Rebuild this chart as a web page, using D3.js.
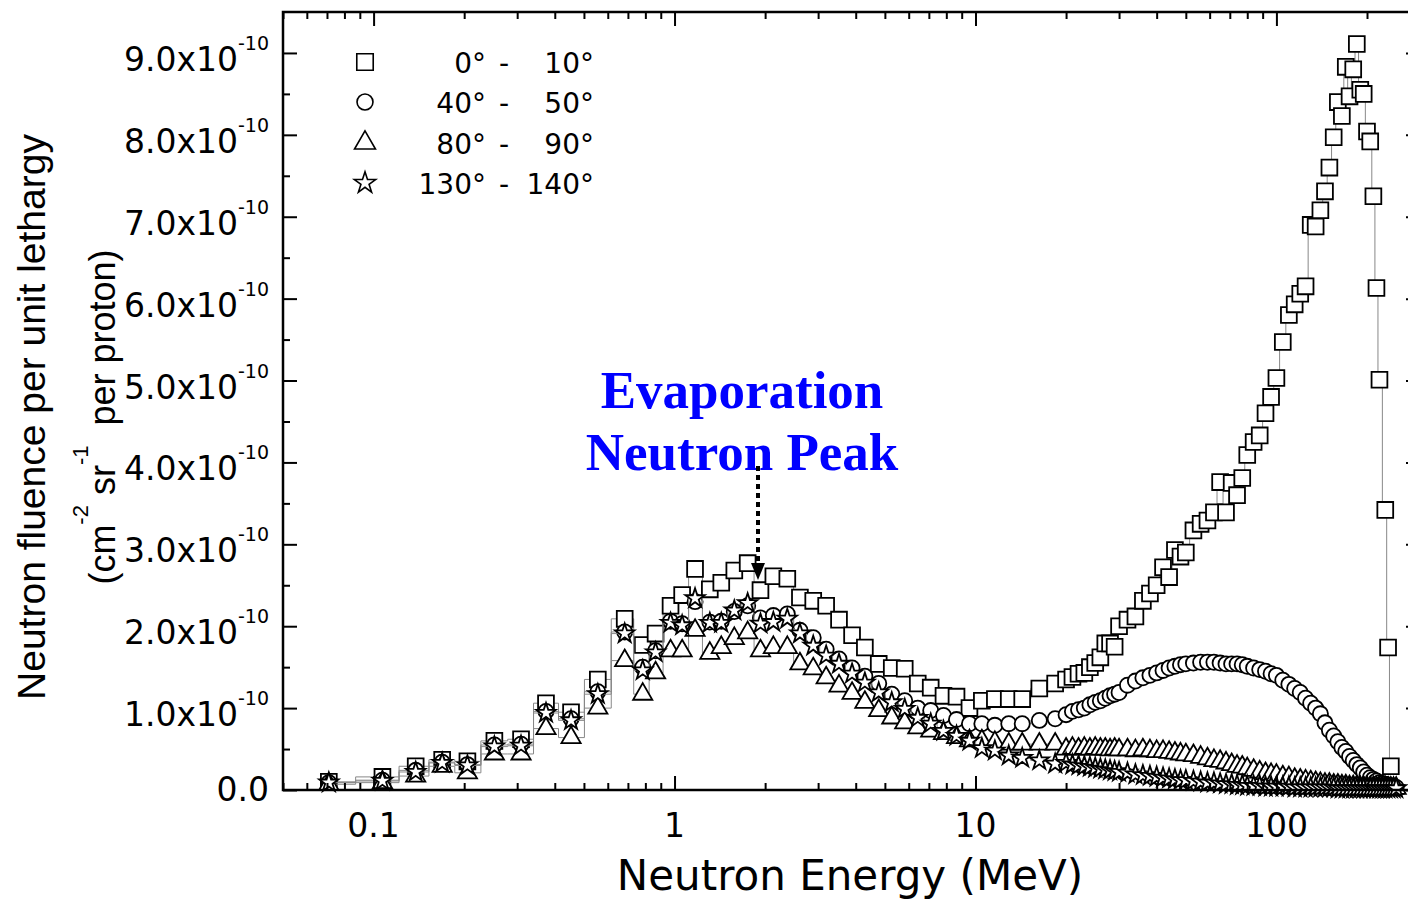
<!DOCTYPE html>
<html>
<head>
<meta charset="utf-8">
<script src="https://cdn.jsdelivr.net/npm/d3@7"></script>
<style>
  body { margin: 0; background: #fff; }
  text { white-space: pre; }
</style>
</head>
<body>
<div id="chart"></div>
<script>
// neutron energy bin centres (MeV)
var energyLow = [0.071, 0.107, 0.138, 0.169, 0.205, 0.252, 0.309, 0.374, 0.453, 0.556, 0.683, 0.784, 0.865, 0.970,
  1.06, 1.17, 1.31, 1.43, 1.58, 1.75, 1.93, 2.13, 2.37, 2.61, 2.89, 3.19, 3.52, 3.89, 4.29, 4.77, 5.27, 5.82,
  6.43, 7.10, 7.83, 8.65, 9.55, 10.5, 11.6, 12.9, 14.3, 16.3, 18.4];
var energyHigh = [20, 21, 22, 23, 24, 25, 26, 27, 28, 29, 30, 32, 34, 36, 38, 40, 42, 44, 46, 48, 50,
  53, 56, 59, 62, 65, 68, 71, 74, 77, 80, 84, 88, 92, 96, 100,
  105, 110, 115, 120, 125, 130, 135, 140, 145, 150, 155, 160, 165, 170, 175, 180, 185, 190, 195, 200,
  205, 210, 215, 220, 225, 230, 235, 240, 245, 250];

// fluence per unit lethargy, units of 1e-10 cm^-2 sr^-1 per proton
var deg0Low = [0.10, 0.16, 0.29, 0.37, 0.35, 0.60, 0.62, 1.06, 0.95, 1.35, 2.09, 1.77, 1.91, 2.25,
  2.38, 2.70, 2.45, 2.53, 2.68, 2.77, 2.44, 2.61, 2.58, 2.35, 2.31, 2.25, 2.08, 1.89, 1.74, 1.54, 1.49, 1.48,
  1.30, 1.25, 1.15, 1.14, 1.00, 1.09, 1.11, 1.11, 1.11, 1.24, 1.30];
var deg0High = [1.35, 1.38, 1.42, 1.43, 1.50, 1.55, 1.62, 1.79, 1.79, 1.75, 2.00, 2.08, 2.12, 2.31, 2.40, 2.50, 2.72, 2.60, 2.93, 2.85, 2.90,
  3.17, 3.25, 3.29, 3.39, 3.76, 3.39, 3.75, 3.60, 3.81, 4.09, 4.25, 4.33, 4.60, 4.80, 5.03,
  5.47, 5.80, 5.93, 6.06, 6.15, 6.90, 6.88, 7.08, 7.31, 7.60, 7.97, 8.40, 8.23, 8.83, 8.47, 8.80, 9.11, 8.55, 8.50, 8.04,
  7.92, 7.25, 6.13, 5.01, null, 3.42, 1.74, 0.29, null, null];

var deg40Low = [0.09, 0.12, 0.24, 0.34, 0.31, 0.55, 0.56, 0.96, 0.87, 1.20, 1.93, 1.50, 1.70, 2.06,
  2.03, 2.30, 2.05, 2.06, 2.18, 2.25, 2.10, 2.13, 2.15, 1.95, 1.86, 1.72, 1.60, 1.49, 1.39, 1.30, 1.17, 1.09,
  1.00, 0.97, 0.91, 0.86, 0.81, 0.81, 0.79, 0.81, 0.81, 0.85, 0.87];
var deg40High = [0.92, 0.96, 0.98, 1.00, 1.04, 1.07, 1.09, 1.12, 1.15, 1.17, 1.19, 1.28, 1.33, 1.37, 1.40, 1.43, 1.46, 1.49, 1.51, 1.53, 1.54,
  1.55, 1.56, 1.56, 1.56, 1.55, 1.54, 1.54, 1.54, 1.53, 1.51, 1.49, 1.47, 1.45, 1.42, 1.40,
  1.34, 1.29, 1.24, 1.19, 1.12, 1.06, 1.00, 0.93, 0.82, 0.73, 0.66, 0.59, 0.52, 0.47, 0.41, 0.36, 0.31, 0.27, 0.22, 0.18,
  0.15, 0.13, 0.11, 0.09, 0.08, 0.07, 0.06, 0.05, 0.04, 0.03];

var deg80Low = [0.07, 0.09, 0.17, 0.29, 0.21, 0.44, 0.44, 0.75, 0.64, 1.00, 1.58, 1.17, 1.43, 1.70,
  1.70, 1.95, 1.67, 1.74, 1.85, 1.92, 1.70, 1.74, 1.74, 1.54, 1.48, 1.37, 1.27, 1.18, 1.07, 0.97, 0.88, 0.82,
  0.76, 0.72, 0.69, 0.64, 0.60, 0.60, 0.58, 0.56, 0.56, 0.56, 0.56];
var deg80High = [0.50, 0.51, 0.50, 0.51, 0.50, 0.51, 0.50, 0.50, 0.49, 0.50, 0.49, 0.49, 0.48, 0.49, 0.48, 0.47, 0.47, 0.46, 0.45, 0.44, 0.43,
  0.42, 0.40, 0.38, 0.36, 0.35, 0.33, 0.31, 0.29, 0.28, 0.26, 0.24, 0.22, 0.20, 0.19, 0.18,
  0.16, 0.15, 0.13, 0.12, 0.11, 0.10, 0.09, 0.08, 0.07, 0.07, 0.06, 0.06, 0.05, 0.05, 0.04, 0.04, 0.04, 0.03, 0.03, 0.03,
  0.03, 0.03, 0.02, 0.02, 0.02, 0.02, 0.02, 0.02, 0.02, 0.02];

var deg130Low = [0.09, 0.11, 0.22, 0.33, 0.30, 0.53, 0.54, 0.94, 0.85, 1.17, 1.91, 1.46, 1.68, 2.04,
  2.01, 2.34, 2.04, 2.04, 2.19, 2.28, 2.03, 2.05, 2.09, 1.91, 1.76, 1.64, 1.54, 1.42, 1.31, 1.19, 1.07, 0.99,
  0.88, 0.81, 0.72, 0.66, 0.60, 0.51, 0.48, 0.42, 0.39, 0.36, 0.32];
var deg130High = [0.33, 0.31, 0.30, 0.29, 0.28, 0.27, 0.26, 0.25, 0.24, 0.23, 0.22, 0.21, 0.19, 0.18, 0.17, 0.16, 0.15, 0.14, 0.13, 0.12, 0.12,
  0.11, 0.10, 0.09, 0.09, 0.08, 0.07, 0.07, 0.06, 0.06, 0.05, 0.05, 0.05, 0.04, 0.04, 0.04,
  0.04, 0.04, 0.03, 0.03, 0.03, 0.03, 0.03, 0.03, 0.03, 0.03, 0.03, 0.02, 0.02, 0.02, 0.02, 0.02, 0.02, 0.02, 0.02, 0.02,
  0.02, 0.02, 0.02, 0.02, 0.02, 0.02, 0.02, 0.02, 0.02, 0.02];

var yTicks = [0, 1, 2, 3, 4, 5, 6, 7, 8, 9];
var yMinor = [0.5, 1.5, 2.5, 3.5, 4.5, 5.5, 6.5, 7.5, 8.5];
var xTicks = [0.1, 1, 10, 100];
var xMinor = [0.05, 0.06, 0.07, 0.08, 0.09, 0.2, 0.3, 0.4, 0.5, 0.6, 0.7, 0.8, 0.9,
  2, 3, 4, 5, 6, 7, 8, 9, 20, 30, 40, 50, 60, 70, 80, 90, 200, 300];
var legendFrom = ["0°", "40°", "80°", "130°"];
var legendTo = ["10°", "50°", "90°", "140°"];

var w = 1408, h = 902;
var plotL = 283, plotR = 1420, plotT = 12, plotB = 790;

var svg = d3.select('#chart').append('svg')
  .attr('width', w)
  .attr('height', h);

var x = d3.scaleLog().domain([0.05, 300]).range([plotL, plotR]);
var y = d3.scaleLinear().domain([0, 9.5]).range([plotB, plotT]);

function pairs(es, vs) {
  return es.map(function(e, i) { return {e: e, v: vs[i]}; })
    .filter(function(d) { return d.v != null; });
}

var series = [
  {data: pairs(energyLow, deg0Low).concat(pairs(energyHigh, deg0High)), sym: d3.symbolSquare, size: 250},
  {data: pairs(energyLow, deg40Low).concat(pairs(energyHigh, deg40High)), sym: d3.symbolCircle, size: 180},
  {data: pairs(energyLow, deg80Low).concat(pairs(energyHigh, deg80High)), sym: d3.symbolTriangle, size: 160},
  {data: pairs(energyLow, deg130Low).concat(pairs(energyHigh, deg130High)), sym: d3.symbolStar, size: 115}
];

var plot = svg.append('g');

var line = d3.line()
  .x(function(d) { return x(d.e); })
  .y(function(d) { return y(d.v); })
  .curve(d3.curveStep);

series.forEach(function(s) {
  plot.append('path')
    .datum(s.data)
    .attr('d', line)
    .attr('fill', 'none')
    .attr('stroke', '#888')
    .attr('stroke-width', 1);
  plot.selectAll(null)
    .data(s.data)
    .enter().append('path')
    .attr('transform', function(d) { return 'translate(' + x(d.e) + ',' + y(d.v) + ')'; })
    .attr('d', d3.symbol().type(s.sym).size(s.size))
    .attr('fill', 'white')
    .attr('stroke', 'black')
    .attr('stroke-width', 1.8);
});

// axes: ticks point inward on all four sides
function styleAxis(g) {
  g.select('.domain').remove();
  g.selectAll('.tick line').attr('stroke', 'black').attr('stroke-width', 2);
  g.selectAll('.tick text').remove();
}
svg.append('g').attr('transform', 'translate(0,' + plotB + ')')
  .call(d3.axisBottom(x).tickValues(xTicks).tickSize(-14).tickSizeOuter(0)).call(styleAxis);
svg.append('g').attr('transform', 'translate(0,' + plotB + ')')
  .call(d3.axisBottom(x).tickValues(xMinor).tickSize(-7).tickSizeOuter(0)).call(styleAxis);
svg.append('g').attr('transform', 'translate(0,' + plotT + ')')
  .call(d3.axisTop(x).tickValues(xTicks).tickSize(-14).tickSizeOuter(0)).call(styleAxis);
svg.append('g').attr('transform', 'translate(0,' + plotT + ')')
  .call(d3.axisTop(x).tickValues(xMinor).tickSize(-7).tickSizeOuter(0)).call(styleAxis);
svg.append('g').attr('transform', 'translate(' + plotL + ',0)')
  .call(d3.axisLeft(y).tickValues(yTicks).tickSize(-14).tickSizeOuter(0)).call(styleAxis);
svg.append('g').attr('transform', 'translate(' + plotL + ',0)')
  .call(d3.axisLeft(y).tickValues(yMinor).tickSize(-7).tickSizeOuter(0)).call(styleAxis);
svg.append('g').attr('transform', 'translate(' + plotR + ',0)')
  .call(d3.axisRight(y).tickValues(yTicks).tickSize(-14).tickSizeOuter(0)).call(styleAxis);
svg.append('g').attr('transform', 'translate(' + plotR + ',0)')
  .call(d3.axisRight(y).tickValues(yMinor).tickSize(-7).tickSizeOuter(0)).call(styleAxis);

svg.append('rect')
  .attr('x', plotL).attr('y', plotT)
  .attr('width', plotR - plotL).attr('height', plotB - plotT)
  .attr('fill', 'none').attr('stroke', 'black').attr('stroke-width', 2.5);

// tick labels
var labelFont = '"DejaVu Sans", sans-serif';
svg.selectAll('.xlab')
  .data(xTicks)
  .enter().append('text')
  .attr('x', function(d) { return x(d); })
  .attr('y', 837)
  .attr('text-anchor', 'middle')
  .style('font-family', labelFont)
  .style('font-size', '33px')
  .text(function(d) { return String(d); });

var ylab = svg.selectAll('.ylab')
  .data(yTicks)
  .enter().append('text')
  .attr('x', 269)
  .attr('y', function(d) { return d === 0 ? y(d) + 11 : y(d) + 18; })
  .attr('text-anchor', 'end')
  .style('font-family', labelFont)
  .style('font-size', '33px');
ylab.append('tspan').text(function(d) { return d === 0 ? '0.0' : d.toFixed(1) + 'x10'; });
ylab.filter(function(d) { return d !== 0; })
  .append('tspan')
  .attr('dy', -21)
  .style('font-size', '19px')
  .text('-10');

// axis titles
svg.append('text')
  .attr('x', 850).attr('y', 890)
  .attr('text-anchor', 'middle')
  .style('font-family', labelFont)
  .style('font-size', '42px')
  .text('Neutron Energy (MeV)');

svg.append('text')
  .attr('transform', 'translate(45,417) rotate(-90)')
  .attr('text-anchor', 'middle')
  .style('font-family', '"Liberation Sans", Arial, sans-serif')
  .style('font-size', '39px')
  .text('Neutron fluence per unit lethargy');

var unit = svg.append('text')
  .attr('transform', 'translate(115,417) rotate(-90)')
  .attr('text-anchor', 'middle')
  .style('font-family', '"Liberation Sans", Arial, sans-serif')
  .style('font-size', '36px');
unit.append('tspan').text('(cm');
unit.append('tspan').attr('dy', -27).style('font-size', '22px').text('-2');
unit.append('tspan').attr('dy', 27).text(' sr');
unit.append('tspan').attr('dy', -27).style('font-size', '22px').text('-1');
unit.append('tspan').attr('dy', 27).text('  per proton)');

// legend
var legendSyms = [d3.symbolSquare, d3.symbolCircle, d3.symbolTriangle, d3.symbolStar];
var legendSizes = [270, 200, 190, 140];
var legendY = [62, 102, 143, 183];
legendSyms.forEach(function(sym, i) {
  var ly = legendY[i];
  svg.append('path')
    .attr('transform', 'translate(365,' + ly + ')')
    .attr('d', d3.symbol().type(sym).size(legendSizes[i]))
    .attr('fill', 'white').attr('stroke', 'black').attr('stroke-width', 1.6);
  svg.append('text').attr('x', 486).attr('y', ly + 10.5).attr('text-anchor', 'end')
    .style('font-family', labelFont).style('font-size', '28px').text(legendFrom[i]);
  svg.append('text').attr('x', 504).attr('y', ly + 10.5).attr('text-anchor', 'middle')
    .style('font-family', labelFont).style('font-size', '28px').text('-');
  svg.append('text').attr('x', 594).attr('y', ly + 10.5).attr('text-anchor', 'end')
    .style('font-family', labelFont).style('font-size', '28px').text(legendTo[i]);
});

// annotation
var note = svg.append('g')
  .style('font-family', '"Liberation Serif", "Times New Roman", serif')
  .style('font-weight', 'bold')
  .style('font-size', '53px')
  .attr('fill', '#0000ff')
  .attr('text-anchor', 'middle');
note.append('text').attr('x', 742).attr('y', 408).text('Evaporation');
note.append('text').attr('x', 742).attr('y', 470).text('Neutron Peak');

svg.append('line')
  .attr('x1', 758).attr('y1', 466).attr('x2', 758).attr('y2', 564)
  .attr('stroke', 'black').attr('stroke-width', 4).attr('stroke-dasharray', '5,4');
svg.append('path')
  .attr('d', 'M751,563 L765,563 L758,580 Z')
  .attr('fill', 'black');
</script>
</body>
</html>
